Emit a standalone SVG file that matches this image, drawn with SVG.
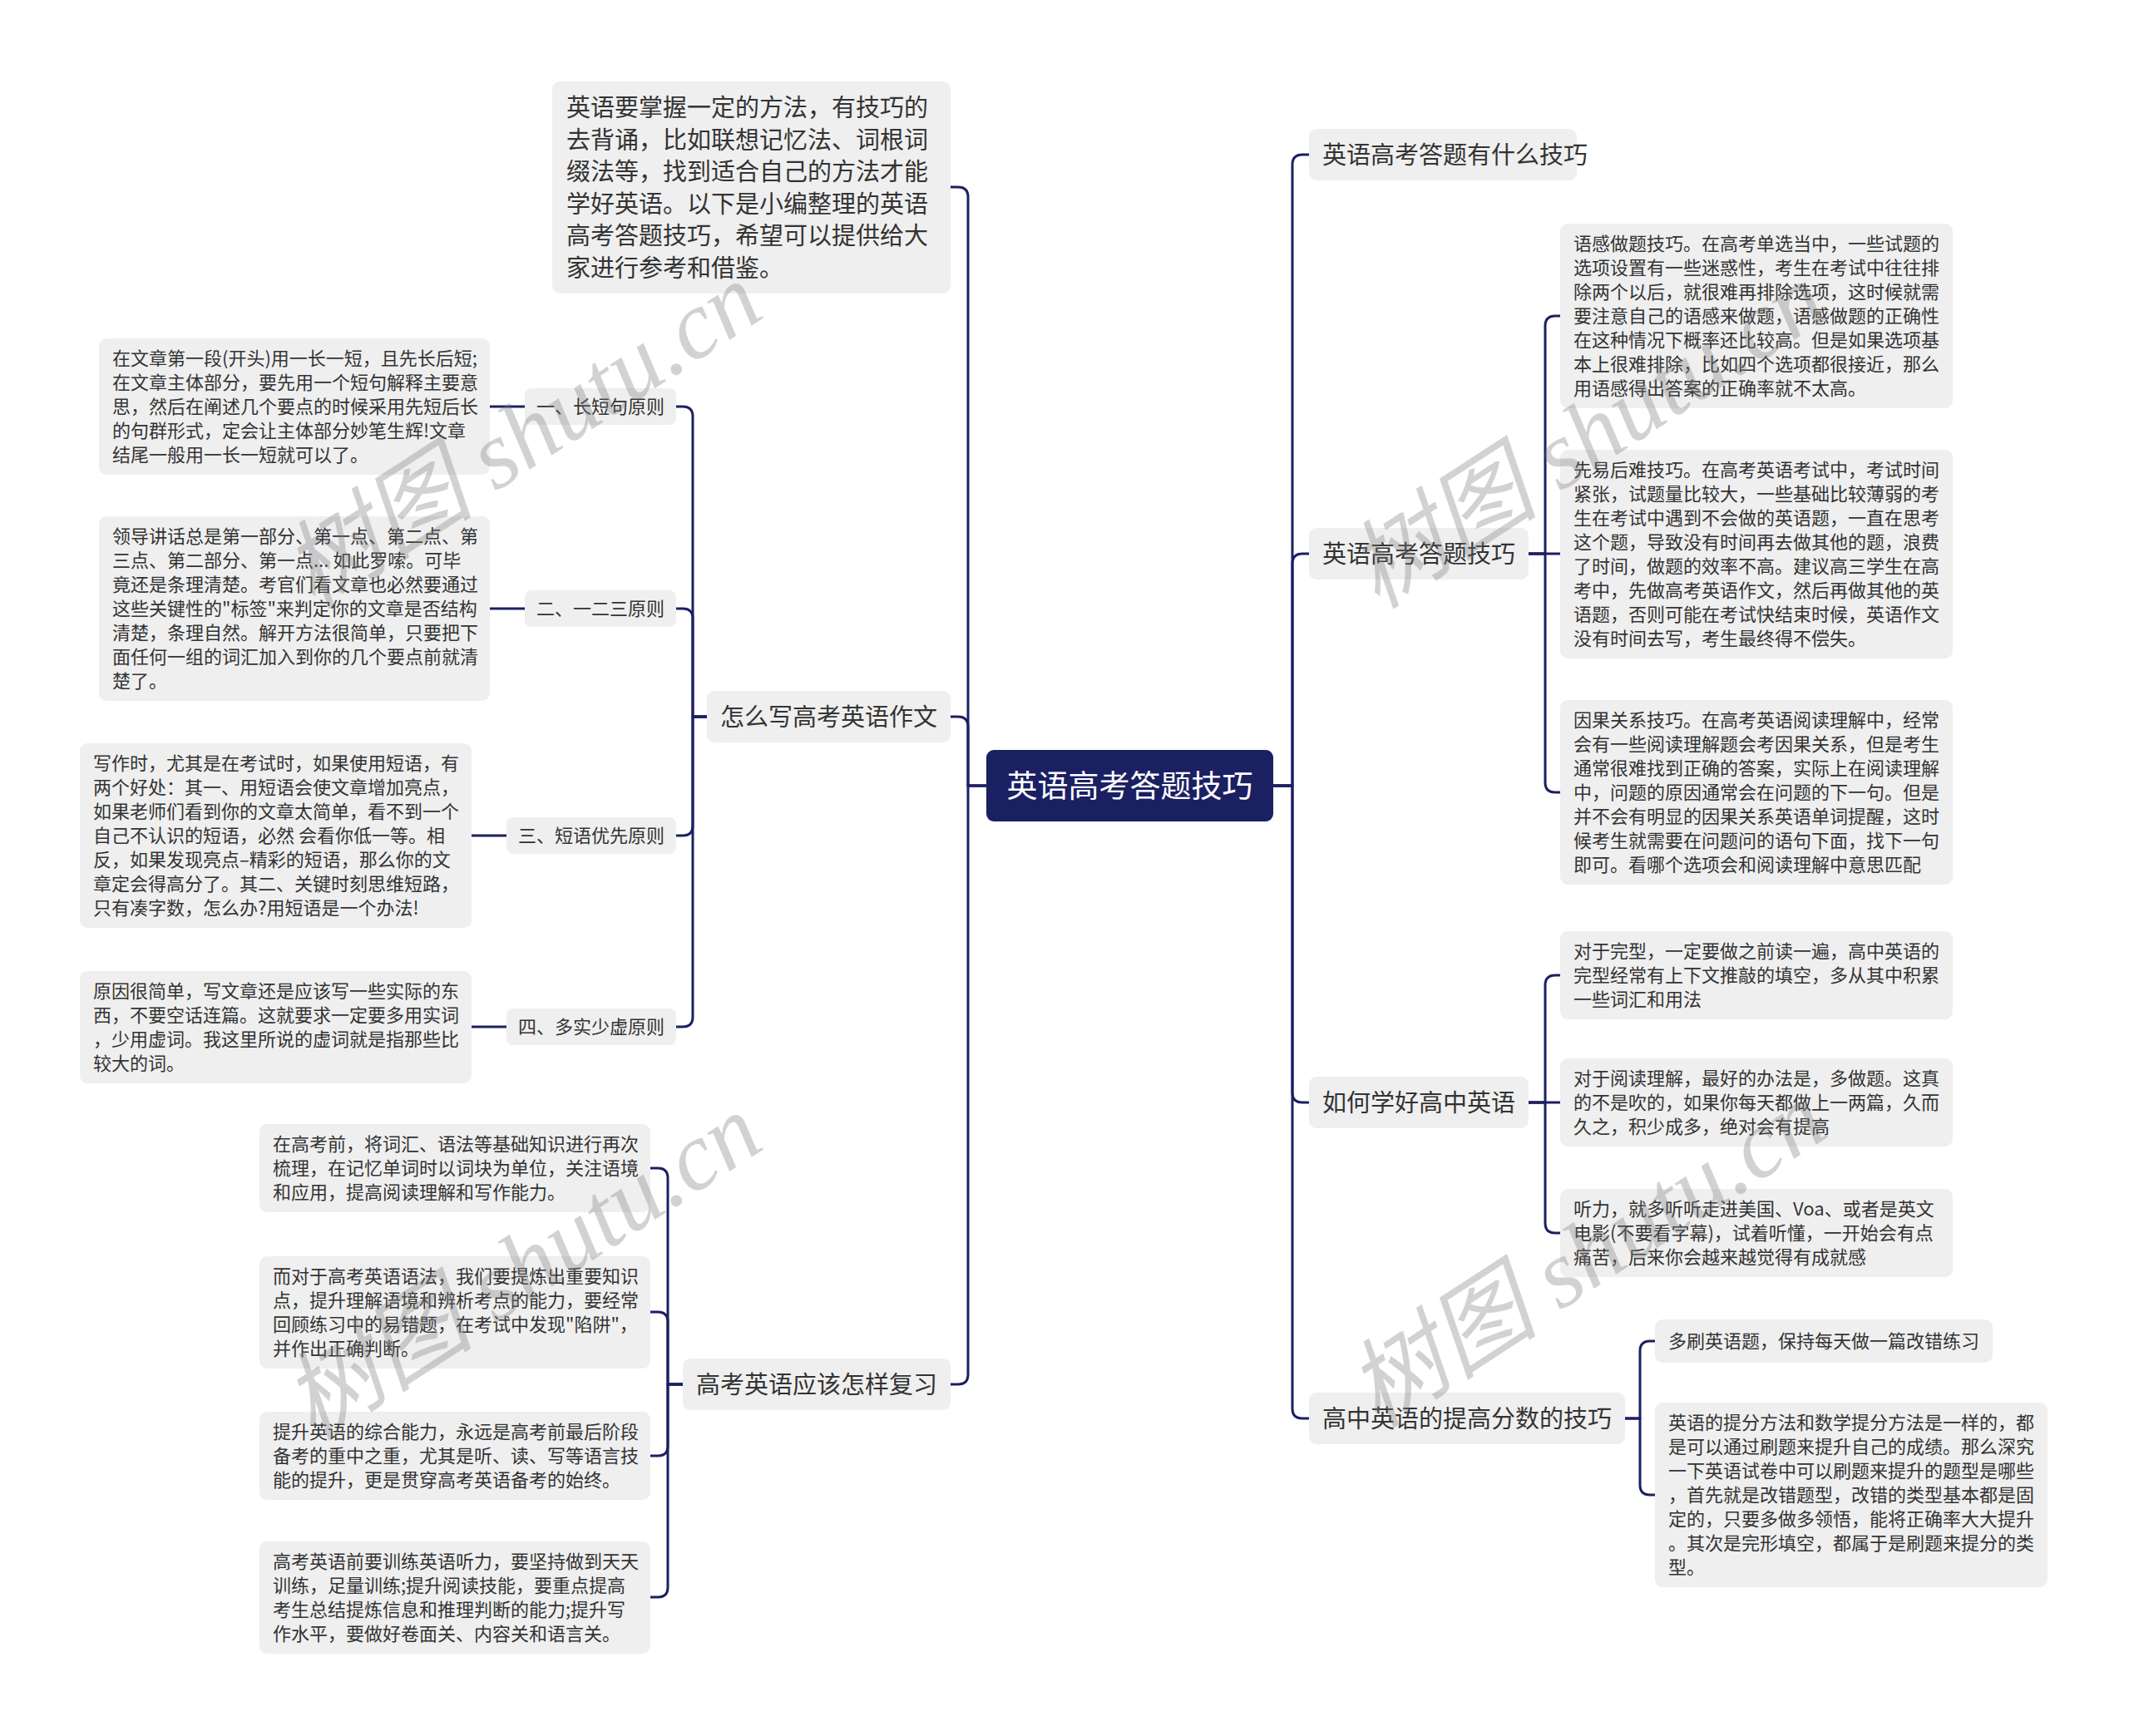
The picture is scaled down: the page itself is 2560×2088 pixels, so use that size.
<svg xmlns="http://www.w3.org/2000/svg" width="2560" height="2088" viewBox="0 0 2560 2088">
<style>
.bg{fill:#ffffff}
.box{fill:#efefef}
.root{fill:#1b2062}
.ln{fill:none;stroke:#1b2062;stroke-width:3;stroke-linecap:round;stroke-linejoin:round}
text{font-family:"Noto Sans CJK SC","Noto Sans",sans-serif;fill:#333333}
.t22{font-size:22px}
.t29{font-size:29px}
.rt{font-size:37px;fill:#ffffff}
.wm{font-family:"Liberation Serif","Noto Sans CJK SC",serif;font-style:italic;font-size:116px;fill:#7a7a7a;opacity:0.33}
</style>
<rect class="bg" x="0" y="0" width="2560" height="2088"/>
<g id="connectors">
<path class="ln" d="M1531 945 H1554 V198 Q1554 186 1566 186 H1574"/>
<path class="ln" d="M1531 945 H1554 V678 Q1554 666 1566 666 H1574"/>
<path class="ln" d="M1531 945 H1554 V1314 Q1554 1326 1566 1326 H1574"/>
<path class="ln" d="M1531 945 H1554 V1694 Q1554 1706 1566 1706 H1574"/>
<path class="ln" d="M1838 666 H1858 V392 Q1858 380 1870 380 H1876"/>
<path class="ln" d="M1838 666 H1876"/>
<path class="ln" d="M1838 666 H1858 V941 Q1858 953 1870 953 H1876"/>
<path class="ln" d="M1838 1326 H1858 V1185 Q1858 1173 1870 1173 H1876"/>
<path class="ln" d="M1838 1326 H1876"/>
<path class="ln" d="M1838 1326 H1858 V1471 Q1858 1483 1870 1483 H1876"/>
<path class="ln" d="M1954 1706 H1972 V1625 Q1972 1613 1984 1613 H1990"/>
<path class="ln" d="M1954 1706 H1972 V1786 Q1972 1798 1984 1798 H1990"/>
<path class="ln" d="M1186 945 H1164 V237 Q1164 225 1152 225 H1143"/>
<path class="ln" d="M1186 945 H1164 V874 Q1164 862 1152 862 H1143"/>
<path class="ln" d="M1186 945 H1164 V1653 Q1164 1665 1152 1665 H1143"/>
<path class="ln" d="M850 862 H833 V501 Q833 489 821 489 H813"/>
<path class="ln" d="M850 862 H833 V744 Q833 732 821 732 H813"/>
<path class="ln" d="M850 862 H833 V993 Q833 1005 821 1005 H813"/>
<path class="ln" d="M850 862 H833 V1223 Q833 1235 821 1235 H813"/>
<path class="ln" d="M631 489 H589"/>
<path class="ln" d="M631 732 H589"/>
<path class="ln" d="M609 1005 H567"/>
<path class="ln" d="M609 1235 H567"/>
<path class="ln" d="M821 1665 H803 V1417 Q803 1405 791 1405 H782"/>
<path class="ln" d="M821 1665 H803 V1590 Q803 1578 791 1578 H782"/>
<path class="ln" d="M821 1665 H803 V1739 Q803 1751 791 1751 H782"/>
<path class="ln" d="M821 1665 H803 V1909 Q803 1921 791 1921 H782"/>
</g>

<g id="root">
<rect class="root" x="1186" y="902" width="345" height="86" rx="9"/>
<text class="rt" x="1358.5" y="959" text-anchor="middle">英语高考答题技巧</text>
</g>

<g id="intro">
<rect class="box" x="664" y="98" width="479" height="255" rx="9"/>
<text class="t29" x="681" y="140"><tspan x="681">英语要掌握一定的方法，有技巧的</tspan><tspan x="681" dy="38.5">去背诵，比如联想记忆法、词根词</tspan><tspan x="681" dy="38.5">缀法等，找到适合自己的方法才能</tspan><tspan x="681" dy="38.5">学好英语。以下是小编整理的英语</tspan><tspan x="681" dy="38.5">高考答题技巧，希望可以提供给大</tspan><tspan x="681" dy="38.5">家进行参考和借鉴。</tspan></text>
</g>

<g id="n-write">
<rect class="box" x="850" y="831" width="293" height="62" rx="9"/>
<text class="t29" x="866" y="873">怎么写高考英语作文</text>
</g>
<g id="n-p1">
<rect class="box" x="631" y="467" width="182" height="44" rx="8"/>
<text class="t22" x="645" y="497">一、长短句原则</text>
</g>
<g id="n-p1t">
<rect class="box" x="119" y="407" width="470" height="164" rx="9"/>
<text class="t22" x="135" y="439"><tspan x="135">在文章第一段(开头)用一长一短，且先长后短;</tspan><tspan x="135" dy="29">在文章主体部分，要先用一个短句解释主要意</tspan><tspan x="135" dy="29">思，然后在阐述几个要点的时候采用先短后长</tspan><tspan x="135" dy="29">的句群形式，定会让主体部分妙笔生辉!文章</tspan><tspan x="135" dy="29">结尾一般用一长一短就可以了。</tspan></text>
</g>
<g id="n-p2">
<rect class="box" x="631" y="710" width="182" height="44" rx="8"/>
<text class="t22" x="645" y="740">二、一二三原则</text>
</g>
<g id="n-p2t">
<rect class="box" x="119" y="621" width="470" height="222" rx="9"/>
<text class="t22" x="135" y="653"><tspan x="135">领导讲话总是第一部分、第一点、第二点、第</tspan><tspan x="135" dy="29">三点、第二部分、第一点... 如此罗嗦。可毕</tspan><tspan x="135" dy="29">竟还是条理清楚。考官们看文章也必然要通过</tspan><tspan x="135" dy="29">这些关键性的"标签"来判定你的文章是否结构</tspan><tspan x="135" dy="29">清楚，条理自然。解开方法很简单，只要把下</tspan><tspan x="135" dy="29">面任何一组的词汇加入到你的几个要点前就清</tspan><tspan x="135" dy="29">楚了。</tspan></text>
</g>
<g id="n-p3">
<rect class="box" x="609" y="983" width="204" height="44" rx="8"/>
<text class="t22" x="623" y="1013">三、短语优先原则</text>
</g>
<g id="n-p3t">
<rect class="box" x="96" y="894" width="471" height="222" rx="9"/>
<text class="t22" x="112" y="926"><tspan x="112">写作时，尤其是在考试时，如果使用短语，有</tspan><tspan x="112" dy="29">两个好处：其一、用短语会使文章增加亮点，</tspan><tspan x="112" dy="29">如果老师们看到你的文章太简单，看不到一个</tspan><tspan x="112" dy="29">自己不认识的短语，必然 会看你低一等。相</tspan><tspan x="112" dy="29">反，如果发现亮点–精彩的短语，那么你的文</tspan><tspan x="112" dy="29">章定会得高分了。其二、关键时刻思维短路，</tspan><tspan x="112" dy="29">只有凑字数，怎么办?用短语是一个办法!</tspan></text>
</g>
<g id="n-p4">
<rect class="box" x="609" y="1213" width="204" height="44" rx="8"/>
<text class="t22" x="623" y="1243">四、多实少虚原则</text>
</g>
<g id="n-p4t">
<rect class="box" x="96" y="1168" width="471" height="135" rx="9"/>
<text class="t22" x="112" y="1200"><tspan x="112">原因很简单，写文章还是应该写一些实际的东</tspan><tspan x="112" dy="29">西，不要空话连篇。这就要求一定要多用实词</tspan><tspan x="112" dy="29">，少用虚词。我这里所说的虚词就是指那些比</tspan><tspan x="112" dy="29">较大的词。</tspan></text>
</g>

<g id="n-review">
<rect class="box" x="821" y="1634" width="322" height="62" rx="9"/>
<text class="t29" x="837" y="1676">高考英语应该怎样复习</text>
</g>
<g id="n-r1">
<rect class="box" x="312" y="1352" width="470" height="106" rx="9"/>
<text class="t22" x="328" y="1384"><tspan x="328">在高考前，将词汇、语法等基础知识进行再次</tspan><tspan x="328" dy="29">梳理，在记忆单词时以词块为单位，关注语境</tspan><tspan x="328" dy="29">和应用，提高阅读理解和写作能力。</tspan></text>
</g>
<g id="n-r2">
<rect class="box" x="312" y="1511" width="470" height="135" rx="9"/>
<text class="t22" x="328" y="1543"><tspan x="328">而对于高考英语语法，我们要提炼出重要知识</tspan><tspan x="328" dy="29">点，提升理解语境和辨析考点的能力，要经常</tspan><tspan x="328" dy="29">回顾练习中的易错题，在考试中发现"陷阱"，</tspan><tspan x="328" dy="29">并作出正确判断。</tspan></text>
</g>
<g id="n-r3">
<rect class="box" x="312" y="1698" width="470" height="106" rx="9"/>
<text class="t22" x="328" y="1730"><tspan x="328">提升英语的综合能力，永远是高考前最后阶段</tspan><tspan x="328" dy="29">备考的重中之重，尤其是听、读、写等语言技</tspan><tspan x="328" dy="29">能的提升，更是贯穿高考英语备考的始终。</tspan></text>
</g>
<g id="n-r4">
<rect class="box" x="312" y="1854" width="470" height="135" rx="9"/>
<text class="t22" x="328" y="1886"><tspan x="328">高考英语前要训练英语听力，要坚持做到天天</tspan><tspan x="328" dy="29">训练，足量训练;提升阅读技能，要重点提高</tspan><tspan x="328" dy="29">考生总结提炼信息和推理判断的能力;提升写</tspan><tspan x="328" dy="29">作水平，要做好卷面关、内容关和语言关。</tspan></text>
</g>

<g id="n-what">
<rect class="box" x="1574" y="155" width="322" height="62" rx="9"/>
<text class="t29" x="1590" y="197">英语高考答题有什么技巧</text>
</g>

<g id="n-skill">
<rect class="box" x="1574" y="635" width="264" height="62" rx="9"/>
<text class="t29" x="1590" y="677">英语高考答题技巧</text>
</g>
<g id="n-s1">
<rect class="box" x="1876" y="269" width="472" height="222" rx="9"/>
<text class="t22" x="1892" y="301"><tspan x="1892">语感做题技巧。在高考单选当中，一些试题的</tspan><tspan x="1892" dy="29">选项设置有一些迷惑性，考生在考试中往往排</tspan><tspan x="1892" dy="29">除两个以后，就很难再排除选项，这时候就需</tspan><tspan x="1892" dy="29">要注意自己的语感来做题，语感做题的正确性</tspan><tspan x="1892" dy="29">在这种情况下概率还比较高。但是如果选项基</tspan><tspan x="1892" dy="29">本上很难排除，比如四个选项都很接近，那么</tspan><tspan x="1892" dy="29">用语感得出答案的正确率就不太高。</tspan></text>
</g>
<g id="n-s2">
<rect class="box" x="1876" y="541" width="472" height="251" rx="9"/>
<text class="t22" x="1892" y="573"><tspan x="1892">先易后难技巧。在高考英语考试中，考试时间</tspan><tspan x="1892" dy="29">紧张，试题量比较大，一些基础比较薄弱的考</tspan><tspan x="1892" dy="29">生在考试中遇到不会做的英语题，一直在思考</tspan><tspan x="1892" dy="29">这个题，导致没有时间再去做其他的题，浪费</tspan><tspan x="1892" dy="29">了时间，做题的效率不高。建议高三学生在高</tspan><tspan x="1892" dy="29">考中，先做高考英语作文，然后再做其他的英</tspan><tspan x="1892" dy="29">语题，否则可能在考试快结束时候，英语作文</tspan><tspan x="1892" dy="29">没有时间去写，考生最终得不偿失。</tspan></text>
</g>
<g id="n-s3">
<rect class="box" x="1876" y="842" width="472" height="222" rx="9"/>
<text class="t22" x="1892" y="874"><tspan x="1892">因果关系技巧。在高考英语阅读理解中，经常</tspan><tspan x="1892" dy="29">会有一些阅读理解题会考因果关系，但是考生</tspan><tspan x="1892" dy="29">通常很难找到正确的答案，实际上在阅读理解</tspan><tspan x="1892" dy="29">中，问题的原因通常会在问题的下一句。但是</tspan><tspan x="1892" dy="29">并不会有明显的因果关系英语单词提醒，这时</tspan><tspan x="1892" dy="29">候考生就需要在问题问的语句下面，找下一句</tspan><tspan x="1892" dy="29">即可。看哪个选项会和阅读理解中意思匹配</tspan></text>
</g>

<g id="n-learn">
<rect class="box" x="1574" y="1295" width="264" height="62" rx="9"/>
<text class="t29" x="1590" y="1337">如何学好高中英语</text>
</g>
<g id="n-l1">
<rect class="box" x="1876" y="1120" width="472" height="106" rx="9"/>
<text class="t22" x="1892" y="1152"><tspan x="1892">对于完型，一定要做之前读一遍，高中英语的</tspan><tspan x="1892" dy="29">完型经常有上下文推敲的填空，多从其中积累</tspan><tspan x="1892" dy="29">一些词汇和用法</tspan></text>
</g>
<g id="n-l2">
<rect class="box" x="1876" y="1273" width="472" height="106" rx="9"/>
<text class="t22" x="1892" y="1305"><tspan x="1892">对于阅读理解，最好的办法是，多做题。这真</tspan><tspan x="1892" dy="29">的不是吹的，如果你每天都做上一两篇，久而</tspan><tspan x="1892" dy="29">久之，积少成多，绝对会有提高</tspan></text>
</g>
<g id="n-l3">
<rect class="box" x="1876" y="1430" width="472" height="106" rx="9"/>
<text class="t22" x="1892" y="1462"><tspan x="1892">听力，就多听听走进美国、Voa、或者是英文</tspan><tspan x="1892" dy="29">电影(不要看字幕)，试着听懂，一开始会有点</tspan><tspan x="1892" dy="29">痛苦，后来你会越来越觉得有成就感</tspan></text>
</g>

<g id="n-score">
<rect class="box" x="1574" y="1675" width="380" height="62" rx="9"/>
<text class="t29" x="1590" y="1717">高中英语的提高分数的技巧</text>
</g>
<g id="n-c1">
<rect class="box" x="1990" y="1587" width="406" height="52" rx="9"/>
<text class="t22" x="2006" y="1621">多刷英语题，保持每天做一篇改错练习</text>
</g>
<g id="n-c2">
<rect class="box" x="1990" y="1687" width="472" height="222" rx="9"/>
<text class="t22" x="2006" y="1719"><tspan x="2006">英语的提分方法和数学提分方法是一样的，都</tspan><tspan x="2006" dy="29">是可以通过刷题来提升自己的成绩。那么深究</tspan><tspan x="2006" dy="29">一下英语试卷中可以刷题来提升的题型是哪些</tspan><tspan x="2006" dy="29">，首先就是改错题型，改错的类型基本都是固</tspan><tspan x="2006" dy="29">定的，只要多做多领悟，能将正确率大大提升</tspan><tspan x="2006" dy="29">。其次是完形填空，都属于是刷题来提分的类</tspan><tspan x="2006" dy="29">型。</tspan></text>
</g>

<g id="watermarks">
<text class="wm" x="632" y="562" text-anchor="middle" transform="rotate(-33 632 530)">树图 shutu.cn</text>
<text class="wm" x="1912" y="562" text-anchor="middle" transform="rotate(-33 1912 530)">树图 shutu.cn</text>
<text class="wm" x="632" y="1562" text-anchor="middle" transform="rotate(-33 632 1530)">树图 shutu.cn</text>
<text class="wm" x="1912" y="1547" text-anchor="middle" transform="rotate(-33 1912 1515)">树图 shutu.cn</text>
</g>
</svg>
